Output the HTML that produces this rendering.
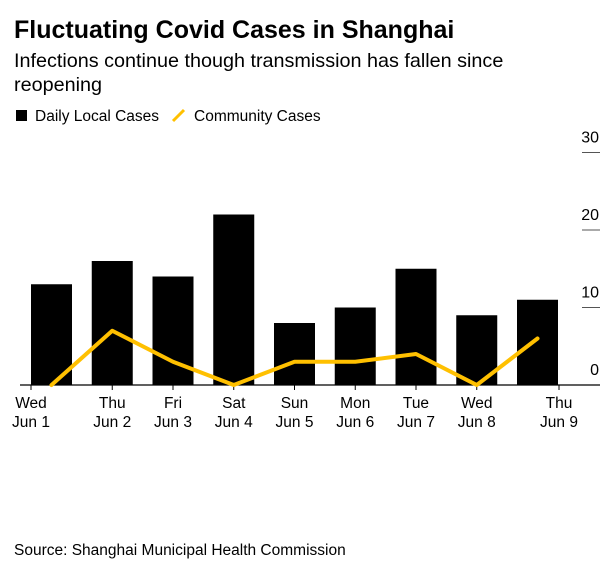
<!DOCTYPE html>
<html><head><meta charset="utf-8"><style>
body{margin:0;background:#fff;font-family:"Liberation Sans",sans-serif;}
svg{display:block}
</style></head><body>
<svg width="613" height="568" xmlns="http://www.w3.org/2000/svg" font-family="Liberation Sans, sans-serif">
<text x="14" y="38" font-size="25" font-weight="bold" fill="#000">Fluctuating Covid Cases in Shanghai</text>
<text x="14" y="67" font-size="19.8" fill="#000">Infections continue though transmission has fallen since</text>
<text x="14" y="91" font-size="19.8" fill="#000">reopening</text>
<g>
<rect x="16" y="110" width="11" height="11" fill="#000"/>
<text x="35" y="121" font-size="15.5">Daily Local Cases</text>
<line x1="173" y1="121" x2="184" y2="110" stroke="#ffc000" stroke-width="3"/>
<text x="194" y="121" font-size="15.5">Community Cases</text>
</g>
<g id="grid"></g><g id="bars"></g><g id="axis"></g><g id="line"></g>
<text x="14" y="555" font-size="15.5">Source: Shanghai Municipal Health Commission</text>
</svg>
<script>
const categories=["Wed|Jun 1","Thu|Jun 2","Fri|Jun 3","Sat|Jun 4","Sun|Jun 5","Mon|Jun 6","Tue|Jun 7","Wed|Jun 8","Thu|Jun 9"];
const dailyLocal=[13,16,14,22,8,10,15,9,11];
const community=[0,7,3,0,3,3,4,0,6];
const yTicks=[0,10,20,30];
const NS="http://www.w3.org/2000/svg";
const y0=385,pxPer=7.75;
function y(v){return y0-v*pxPer;}
const barStart=31,step=60.75,bw=41;
function xBar(i){return barStart+i*step;}
function xC(i){return xBar(i)+bw/2;}
function mk(t,a,p){const e=document.createElementNS(NS,t);for(const k in a)e.setAttribute(k,a[k]);p.appendChild(e);return e;}
const grid=document.getElementById('grid');
yTicks.forEach(v=>{
 if(v>0){const l=mk('line',{x1:582,x2:600,y1:y(v),y2:y(v),stroke:'#555','stroke-width':1},grid);
 
 }
 const t=mk('text',{x:599,y:y(v)-10,'font-size':16,'text-anchor':'end'},grid);t.textContent=v;
 
 
});
const bars=document.getElementById('bars');
dailyLocal.forEach((v,i)=>{
 const r=mk('rect',{x:xBar(i),y:y(v),width:bw,height:y0-y(v),fill:'#000'},bars);
 
 
});
const axis=document.getElementById('axis');
const al=mk('line',{x1:20,x2:600,y1:y0,y2:y0,stroke:'#000','stroke-width':1.2},axis);


categories.forEach((c,i)=>{
 const tx=i===categories.length-1?xBar(i)+bw+1:(i===0?xBar(i):xC(i));
 const tk=mk('line',{x1:tx,x2:tx,y1:y0,y2:y0+5,stroke:'#000','stroke-width':1},axis);
 
 
 const parts=c.split('|');
 const t=mk('text',{x:tx,y:y0+23,'font-size':15.5,'text-anchor':'middle'},axis);
 
 
 const s1=mk('tspan',{x:tx,dy:0},t);s1.textContent=parts[0];
 const s2=mk('tspan',{x:tx,dy:19},t);s2.textContent=parts[1];
});
const lg=document.getElementById('line');
const pts=community.map((v,i)=>xC(i)+','+y(v)).join(' ');
const pl=mk('polyline',{points:pts,fill:'none',stroke:'#ffc000','stroke-width':4,'stroke-linejoin':'round','stroke-linecap':'round'},lg);


</script>
</body></html>
